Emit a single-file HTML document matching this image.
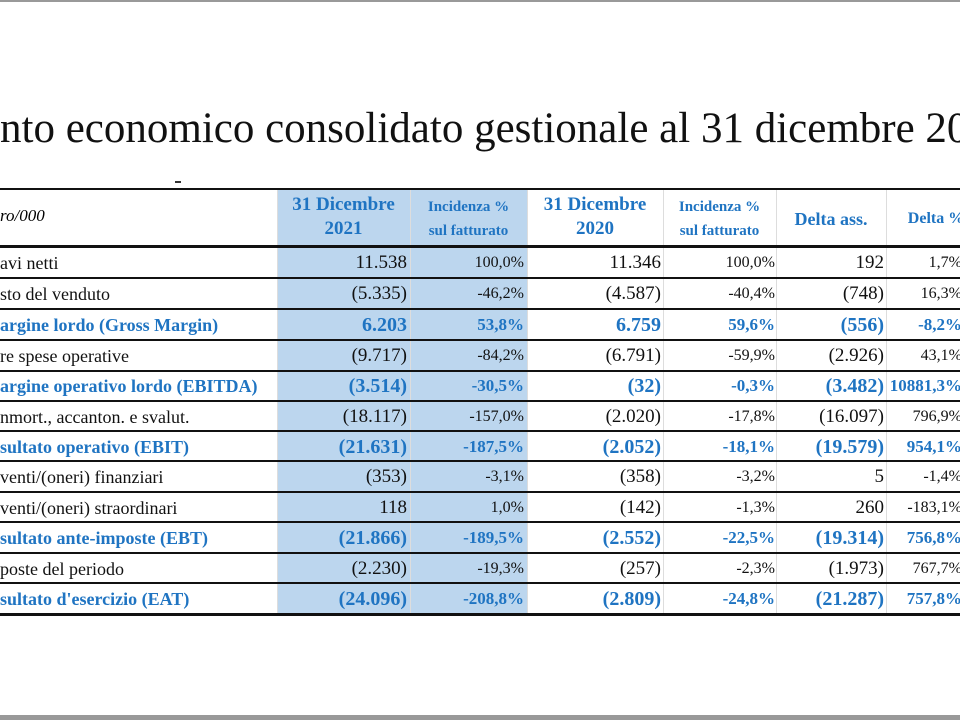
<!DOCTYPE html>
<html><head><meta charset="utf-8"><style>
body{margin:0;width:960px;height:720px;background:#fff;position:relative;overflow:hidden;font-family:"Liberation Serif",serif;}
.frame{position:absolute;left:0;top:0;width:960px;height:2px;background:#999}
.frameb{position:absolute;left:0;top:715px;width:960px;height:5px;background:#999}
.title{position:absolute;left:0px;top:104px;font-size:43px;white-space:nowrap;color:#111}
.shade{position:absolute;left:277px;top:190px;width:250px;height:424px;background:#bcd6ee}
.vl{position:absolute;top:190px;width:1px;height:424px;background:#ddd}
.hl{position:absolute;left:0;width:960px;height:2px;background:#111}
.row{position:absolute;left:0;width:960px;height:30px;line-height:30px;font-size:18px;color:#111}
.row div{position:absolute;top:0;white-space:nowrap}
.b{color:#1f74c2;font-weight:bold}
.b .n{font-size:20px}
.l{left:0}
.c1{right:553px;font-size:19px}.c2{right:436px;font-size:16px}.c3{right:299px;font-size:19px}.c4{right:185px;font-size:16px}.c5{right:76px;font-size:19px}.c6{right:-2px;font-size:16px}
.b .c2,.b .c4,.b .c6{font-size:17px}
.h{position:absolute;color:#1f74c2;font-weight:bold;text-align:center;line-height:24px}
</style></head><body>
<div class="frame"></div><div class="frameb"></div>
<div class="title">nto economico consolidato gestionale al 31 dicembre 20</div>
<div style="position:absolute;left:175px;top:181px;width:6px;height:2px;background:#333"></div>
<div class="shade"></div>
<div class="vl" style="left:277px"></div><div class="vl" style="left:410px"></div><div class="vl" style="left:527px"></div><div class="vl" style="left:663px"></div><div class="vl" style="left:776px"></div><div class="vl" style="left:886px"></div>
<div class="hl" style="top:188px"></div>
<div style="position:absolute;left:0;top:206px;font-size:17px;font-style:italic">ro/000</div>
<div class="h" style="left:277px;width:133px;top:193px;font-size:19px">31 Dicembre<br>2021</div>
<div class="h" style="left:410px;width:117px;top:195px;font-size:15px">Incidenza %<br>sul fatturato</div>
<div class="h" style="left:527px;width:136px;top:193px;font-size:19px">31 Dicembre<br>2020</div>
<div class="h" style="left:663px;width:113px;top:195px;font-size:15px">Incidenza %<br>sul fatturato</div>
<div class="h" style="left:776px;width:110px;top:207px;font-size:18px">Delta ass.</div>
<div class="h" style="left:886px;width:100px;top:207px;font-size:16px">Delta %</div>
<div class="hl" style="top:245px;height:3px"></div>

<div class="row" style="top:248px"><div class="l">avi netti</div><div class="c1 n">11.538</div><div class="c2">100,0%</div><div class="c3 n">11.346</div><div class="c4">100,0%</div><div class="c5 n">192</div><div class="c6">1,7%</div></div>
<div class="hl" style="top:277px"></div>
<div class="row" style="top:279px"><div class="l">sto del venduto</div><div class="c1 n">(5.335)</div><div class="c2">-46,2%</div><div class="c3 n">(4.587)</div><div class="c4">-40,4%</div><div class="c5 n">(748)</div><div class="c6">16,3%</div></div>
<div class="hl" style="top:308px"></div>
<div class="row b" style="top:310px"><div class="l">argine lordo (Gross Margin)</div><div class="c1 n">6.203</div><div class="c2">53,8%</div><div class="c3 n">6.759</div><div class="c4">59,6%</div><div class="c5 n">(556)</div><div class="c6">-8,2%</div></div>
<div class="hl" style="top:339px"></div>
<div class="row" style="top:341px"><div class="l">re spese operative</div><div class="c1 n">(9.717)</div><div class="c2">-84,2%</div><div class="c3 n">(6.791)</div><div class="c4">-59,9%</div><div class="c5 n">(2.926)</div><div class="c6">43,1%</div></div>
<div class="hl" style="top:370px"></div>
<div class="row b" style="top:371px"><div class="l">argine operativo lordo (EBITDA)</div><div class="c1 n">(3.514)</div><div class="c2">-30,5%</div><div class="c3 n">(32)</div><div class="c4">-0,3%</div><div class="c5 n">(3.482)</div><div class="c6">10881,3%</div></div>
<div class="hl" style="top:400px"></div>
<div class="row" style="top:402px"><div class="l">nmort., accanton. e svalut.</div><div class="c1 n">(18.117)</div><div class="c2">-157,0%</div><div class="c3 n">(2.020)</div><div class="c4">-17,8%</div><div class="c5 n">(16.097)</div><div class="c6">796,9%</div></div>
<div class="hl" style="top:430px"></div>
<div class="row b" style="top:432px"><div class="l">sultato operativo (EBIT)</div><div class="c1 n">(21.631)</div><div class="c2">-187,5%</div><div class="c3 n">(2.052)</div><div class="c4">-18,1%</div><div class="c5 n">(19.579)</div><div class="c6">954,1%</div></div>
<div class="hl" style="top:460px"></div>
<div class="row" style="top:462px"><div class="l">venti/(oneri) finanziari</div><div class="c1 n">(353)</div><div class="c2">-3,1%</div><div class="c3 n">(358)</div><div class="c4">-3,2%</div><div class="c5 n">5</div><div class="c6">-1,4%</div></div>
<div class="hl" style="top:491px"></div>
<div class="row" style="top:493px"><div class="l">venti/(oneri) straordinari</div><div class="c1 n">118</div><div class="c2">1,0%</div><div class="c3 n">(142)</div><div class="c4">-1,3%</div><div class="c5 n">260</div><div class="c6">-183,1%</div></div>
<div class="hl" style="top:521px"></div>
<div class="row b" style="top:523px"><div class="l">sultato ante-imposte (EBT)</div><div class="c1 n">(21.866)</div><div class="c2">-189,5%</div><div class="c3 n">(2.552)</div><div class="c4">-22,5%</div><div class="c5 n">(19.314)</div><div class="c6">756,8%</div></div>
<div class="hl" style="top:552px"></div>
<div class="row" style="top:554px"><div class="l">poste del periodo</div><div class="c1 n">(2.230)</div><div class="c2">-19,3%</div><div class="c3 n">(257)</div><div class="c4">-2,3%</div><div class="c5 n">(1.973)</div><div class="c6">767,7%</div></div>
<div class="hl" style="top:582px"></div>
<div class="row b" style="top:584px"><div class="l">sultato d'esercizio (EAT)</div><div class="c1 n">(24.096)</div><div class="c2">-208,8%</div><div class="c3 n">(2.809)</div><div class="c4">-24,8%</div><div class="c5 n">(21.287)</div><div class="c6">757,8%</div></div>
<div class="hl" style="top:613px;height:3px"></div>
</body></html>
